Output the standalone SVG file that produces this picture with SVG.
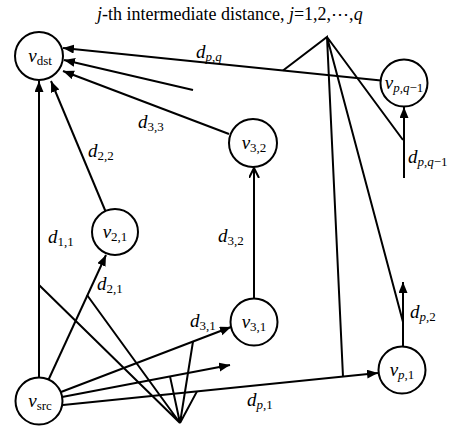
<svg xmlns="http://www.w3.org/2000/svg" width="459" height="428" viewBox="0 0 459 428">
<style>
.n{fill:#fff;stroke:#000;stroke-width:2}
.c{stroke:#000;stroke-width:2;fill:none}
.p{stroke:#000;stroke-width:2;fill:none}
text{font-family:"Liberation Serif","Times New Roman",serif;fill:#000}
.t{font-size:18px}
.l{font-size:19px}
.s{font-size:13px}
.i{font-style:italic}
</style>
<defs>
<marker id="a" markerUnits="userSpaceOnUse" markerWidth="12" markerHeight="10" refX="11" refY="4.5" orient="auto"><path d="M0,0 L11,4.5 L0,9 z" fill="#000"/></marker>
<marker id="o" markerUnits="userSpaceOnUse" markerWidth="12" markerHeight="12" refX="10" refY="5.5" orient="auto"><path d="M0,0.5 L10,5.5 L0,10.5" fill="none" stroke="#000" stroke-width="2"/></marker>
</defs>
<rect width="459" height="428" fill="#fff"/>
<text class="t" x="97" y="19.5"><tspan class="i">j</tspan>-th intermediate distance, <tspan class="i">j</tspan>=1,2,⋯,<tspan class="i">q</tspan></text>
<g id="connectors">
<line class="c" x1="39" y1="377.5" x2="39" y2="81" marker-end="url(#a)"/>
<line class="c" x1="48.6" y1="379.5" x2="106" y2="255" marker-end="url(#a)"/>
<line class="c" x1="61" y1="392" x2="231" y2="327" marker-end="url(#a)"/>
<line class="c" x1="62" y1="397" x2="230" y2="365" marker-end="url(#a)"/>
<line class="c" x1="63" y1="405" x2="378" y2="373" marker-end="url(#a)"/>
<line class="c" x1="105.4" y1="211" x2="51" y2="81" marker-end="url(#a)"/>
<line class="c" x1="229" y1="134" x2="63" y2="71" marker-end="url(#a)"/>
<line class="c" x1="193" y1="90" x2="64" y2="60" marker-end="url(#a)"/>
<line class="c" x1="381" y1="80.5" x2="63" y2="48" marker-end="url(#a)"/>
<line class="c" x1="254" y1="298.5" x2="254" y2="168" marker-end="url(#o)"/>
<line class="c" x1="404" y1="178" x2="404" y2="107" marker-end="url(#a)"/>
<line class="c" x1="403" y1="346.5" x2="403" y2="282" marker-end="url(#a)"/>
<path class="p" d="M283,70.5 L327,37 L343,376.6 M327,37 L403,322 M327,37 L403,140"/>
<path class="p" d="M39,285 L180,423 L87,295 M180,423 L170,376.4 M180,423 L193,341.5 M180,423 L197,391.4"/>
</g>
<g id="n-dst"><circle class="n" cx="39" cy="56" r="24"/><text x="40" y="62" text-anchor="middle"><tspan class="l i">v</tspan><tspan class="s" dy="3">dst</tspan></text></g>
<g id="n-21"><circle class="n" cx="115" cy="232" r="23"/><text x="115" y="238" text-anchor="middle"><tspan class="l i">v</tspan><tspan class="s" dy="3">2,1</tspan></text></g>
<g id="n-32"><circle class="n" cx="253" cy="143" r="24"/><text x="254" y="149" text-anchor="middle"><tspan class="l i">v</tspan><tspan class="s" dy="3">3,2</tspan></text></g>
<g id="n-31"><circle class="n" cx="254" cy="322" r="23.5"/><text x="254" y="328" text-anchor="middle"><tspan class="l i">v</tspan><tspan class="s" dy="3">3,1</tspan></text></g>
<g id="n-pq1"><circle class="n" cx="404" cy="83" r="23.5"/><text x="404" y="89" text-anchor="middle"><tspan class="l i">v</tspan><tspan class="s" dy="3"><tspan class="i">p</tspan>,<tspan class="i">q</tspan>−1</tspan></text></g>
<g id="n-p1"><circle class="n" cx="402" cy="370" r="23.5"/><text x="402" y="376" text-anchor="middle"><tspan class="l i">v</tspan><tspan class="s" dy="3"><tspan class="i">p</tspan>,1</tspan></text></g>
<g id="n-src"><circle class="n" cx="39" cy="401" r="23.5"/><text x="40" y="407" text-anchor="middle"><tspan class="l i">v</tspan><tspan class="s" dy="3">src</tspan></text></g>
<g id="labels">
<text x="196" y="58"><tspan class="l i">d</tspan><tspan class="s i" dy="3">p</tspan><tspan class="s" dy="0">,</tspan><tspan class="s i">q</tspan></text>
<text x="138" y="128"><tspan class="l i">d</tspan><tspan class="s" dy="3">3,3</tspan></text>
<text x="88" y="157"><tspan class="l i">d</tspan><tspan class="s" dy="3">2,2</tspan></text>
<text x="48" y="243"><tspan class="l i">d</tspan><tspan class="s" dy="3">1,1</tspan></text>
<text x="97" y="290"><tspan class="l i">d</tspan><tspan class="s" dy="3">2,1</tspan></text>
<text x="190" y="327"><tspan class="l i">d</tspan><tspan class="s" dy="3">3,1</tspan></text>
<text x="218" y="242"><tspan class="l i">d</tspan><tspan class="s" dy="3">3,2</tspan></text>
<text x="247" y="406"><tspan class="l i">d</tspan><tspan class="s i" dy="3">p</tspan><tspan class="s">,1</tspan></text>
<text x="410" y="318"><tspan class="l i">d</tspan><tspan class="s i" dy="3">p</tspan><tspan class="s">,2</tspan></text>
<text x="408" y="163"><tspan class="l i">d</tspan><tspan class="s i" dy="3">p</tspan><tspan class="s">,</tspan><tspan class="s i">q</tspan><tspan class="s">−1</tspan></text>
</g>
</svg>
